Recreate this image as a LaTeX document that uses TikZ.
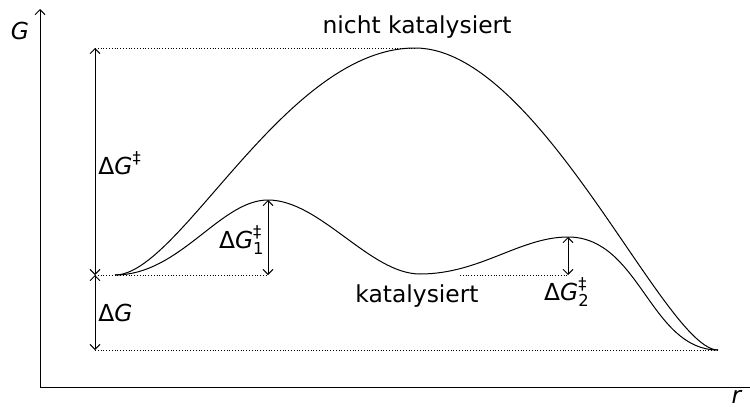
\documentclass[tikz,border=0pt]{standalone}
\usepackage{amsmath}
\usepackage{fontspec}
\setmainfont{DejaVu Sans}
\usetikzlibrary{arrows.meta,positioning,calc}

\begin{document}
\begin{tikzpicture}[
  x=0.5pt, y=-0.5pt,
  >={Straight Barb[length=2.5pt,width=5pt]},
  every node/.style={font=\fontsize{11.7}{14}\selectfont, inner sep=0pt},
  curve/.style={line width=0.5pt},
  level/.style={densely dotted, line width=0.4pt},
  dim/.style={<->, line width=0.45pt}
]
\useasboundingbox (0,0) rectangle (750,407);

% axes
\coordinate (O) at (40,387);
\coordinate (yend) at (40,9);
\coordinate (xend) at (760,387);
\draw[->, line width=0.5pt] (O) -- (yend);
\draw[->, line width=0.5pt] (O) -- (xend);
\node (Glab) at (20,31) {\textit{G}};
\node (rlab) at (737,397) {\textit{r}};

% energy levels
\coordinate (start) at (115,275);
\coordinate (TS) at (415,48);
\coordinate (fin) at (718,350);
\coordinate (TS1) at (268,200);
\coordinate (mid) at (420,274);
\coordinate (TS2) at (568,237);
\coordinate (lvlTop) at (95,48);
\coordinate (lvlMid) at (95,275);
\coordinate (lvlBot) at (95,350);
\coordinate (base1) at (268,275);
\coordinate (base2a) at (460,275);
\coordinate (base2) at (568,275);

\draw[level] (lvlTop) -- (TS);
\draw[level] (lvlMid) -- (base1);
\draw[level] (base2a) -- (base2);
\draw[level] (lvlBot) -- (fin);

% not catalysed
\draw[curve] (start) .. controls (180,275) and (285,48) .. (TS)
  .. controls (540,48) and (665,350) .. (fin);
% catalysed
\draw[curve] (start) .. controls (180,275) and (220,200) .. (TS1)
  .. controls (320,200) and (370,274) .. (mid)
  .. controls (480,274) and (520,237) .. (TS2)
  .. controls (640,237) and (650,350) .. (fin);

% differences
\draw[dim] (lvlMid) -- (lvlTop);
\draw[dim] (lvlMid) -- (lvlBot);
\draw[dim] (base1) -- (TS1);
\draw[dim] (base2) -- (TS2);

\node[anchor=west] (dGact) at (98,163) {$\text{Δ\textit{G}}^{\text{‡}}$};
\node[anchor=west] (dG) at (98,313) {Δ\textit{G}};
\node[anchor=east] (dG1) at (265,240) {$\text{Δ\textit{G}}^{\text{‡}}_{\text{1}}$};
\node (dG2) at (567,292) {$\text{Δ\textit{G}}^{\text{‡}}_{\text{2}}$};
\node (kat) at (417,296) {katalysiert};
\node (nkat) at (417,27) {nicht katalysiert};
\end{tikzpicture}
\end{document}
